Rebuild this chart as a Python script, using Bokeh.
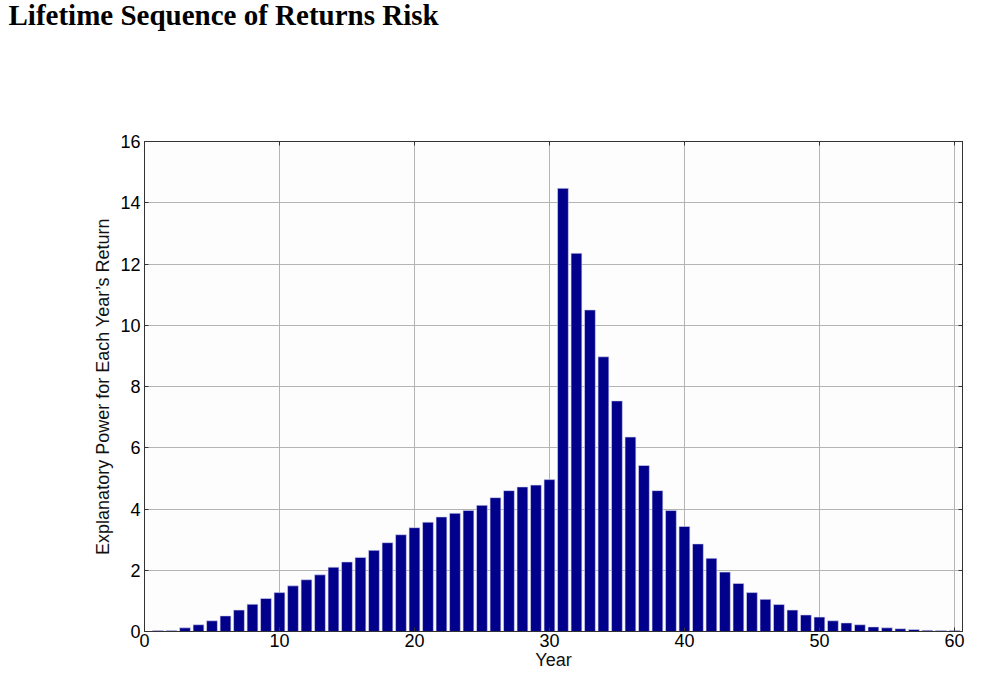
from bokeh.plotting import figure
from bokeh.layouts import column
from bokeh.models import LinearAxis, Range1d, FixedTicker, CustomJSTickFormatter
from bokeh.embed import file_html
from bokeh.resources import INLINE

title_text = "Lifetime Sequence of Returns Risk"
years = list(range(1, 61))
power = [0.03, 0.03, 0.12, 0.22, 0.35, 0.51, 0.70, 0.89, 1.08, 1.27,
         1.49, 1.69, 1.85, 2.10, 2.27, 2.42, 2.65, 2.90, 3.16, 3.39,
         3.57, 3.74, 3.86, 3.95, 4.12, 4.37, 4.60, 4.72, 4.78, 4.96,
         14.47, 12.35, 10.50, 8.97, 7.53, 6.35, 5.42, 4.60, 3.95, 3.43,
         2.86, 2.39, 1.94, 1.57, 1.27, 1.05, 0.88, 0.70, 0.54, 0.47,
         0.35, 0.28, 0.22, 0.15, 0.12, 0.09, 0.065, 0.04, 0.03, 0.03]
x_ticks = [0, 10, 20, 30, 40, 50, 60]
y_ticks = [0, 2, 4, 6, 8, 10, 12, 14, 16]

W, H = 990, 680
TH = 50  # height of the title strip

# Title strip
t = figure(width=W, height=TH, output_backend="svg", toolbar_location=None,
           x_axis_type=None, y_axis_type=None,
           min_border_left=0, min_border_right=0, min_border_top=0, min_border_bottom=0)
t.title.text = title_text
t.title.text_font = "Liberation Serif"
t.title.text_font_size = "29px"
t.title.text_font_style = "bold"
t.title.text_color = "black"
t.title.offset = -136
t.title.vertical_align = "top"
t.title.standoff = -3
t.outline_line_color = None
t.background_fill_color = "white"
t.border_fill_color = "white"
t.grid.visible = False

# Main chart
p = figure(width=W, height=H - TH, output_backend="svg", toolbar_location=None,
           x_range=Range1d(0, 60.6), y_range=Range1d(0, 16),
           min_border_left=144, min_border_right=W - 962, min_border_top=141 - TH,
           min_border_bottom=H - 631)

p.background_fill_color = "#fdfdfd"
p.border_fill_color = "white"
p.outline_line_color = "#333333"
p.outline_line_width = 1

p.vbar(x=years, top=power, width=0.8, fill_color="#00008B",
       line_color="#d8d8f0", line_width=0.6)

font = "Liberation Sans"
for ax in [p.xaxis[0], p.yaxis[0]]:
    ax.major_label_text_font = font
    ax.major_label_text_font_size = "18px"
    ax.major_label_text_color = "black"
    ax.axis_label_text_font = font
    ax.axis_label_text_font_size = "18px"
    ax.axis_label_text_font_style = "normal"
    ax.axis_label_text_color = "#111111"
    ax.major_tick_in = 4
    ax.major_tick_out = 0
    ax.minor_tick_in = 0
    ax.minor_tick_out = 0
    ax.axis_line_color = "#333333"
    ax.major_tick_line_color = "#333333"

p.xaxis[0].major_label_standoff = 2
p.yaxis[0].major_label_standoff = 4
p.xaxis[0].ticker = FixedTicker(ticks=x_ticks)
p.yaxis[0].ticker = FixedTicker(ticks=y_ticks)
p.xaxis[0].axis_label = "Year"
p.xaxis[0].axis_label_standoff = 0
p.yaxis[0].axis_label = "Explanatory Power for Each Year\u2019s Return"
p.yaxis[0].axis_label_standoff = 4

for loc, tick in [("right", y_ticks), ("above", x_ticks)]:
    a = LinearAxis(ticker=FixedTicker(ticks=tick),
                   formatter=CustomJSTickFormatter(code="return ''"),
                   major_tick_in=4, major_tick_out=0, minor_tick_in=0, minor_tick_out=0,
                   axis_line_color="#333333", major_tick_line_color="#333333")
    p.add_layout(a, loc)

p.xgrid.ticker = FixedTicker(ticks=x_ticks)
p.ygrid.ticker = FixedTicker(ticks=y_ticks)
p.grid.grid_line_color = "#b4b4b4"
p.grid.grid_line_width = 1

layout = column(t, p, spacing=0)
open("out.html", "w").write(file_html(layout, INLINE))
